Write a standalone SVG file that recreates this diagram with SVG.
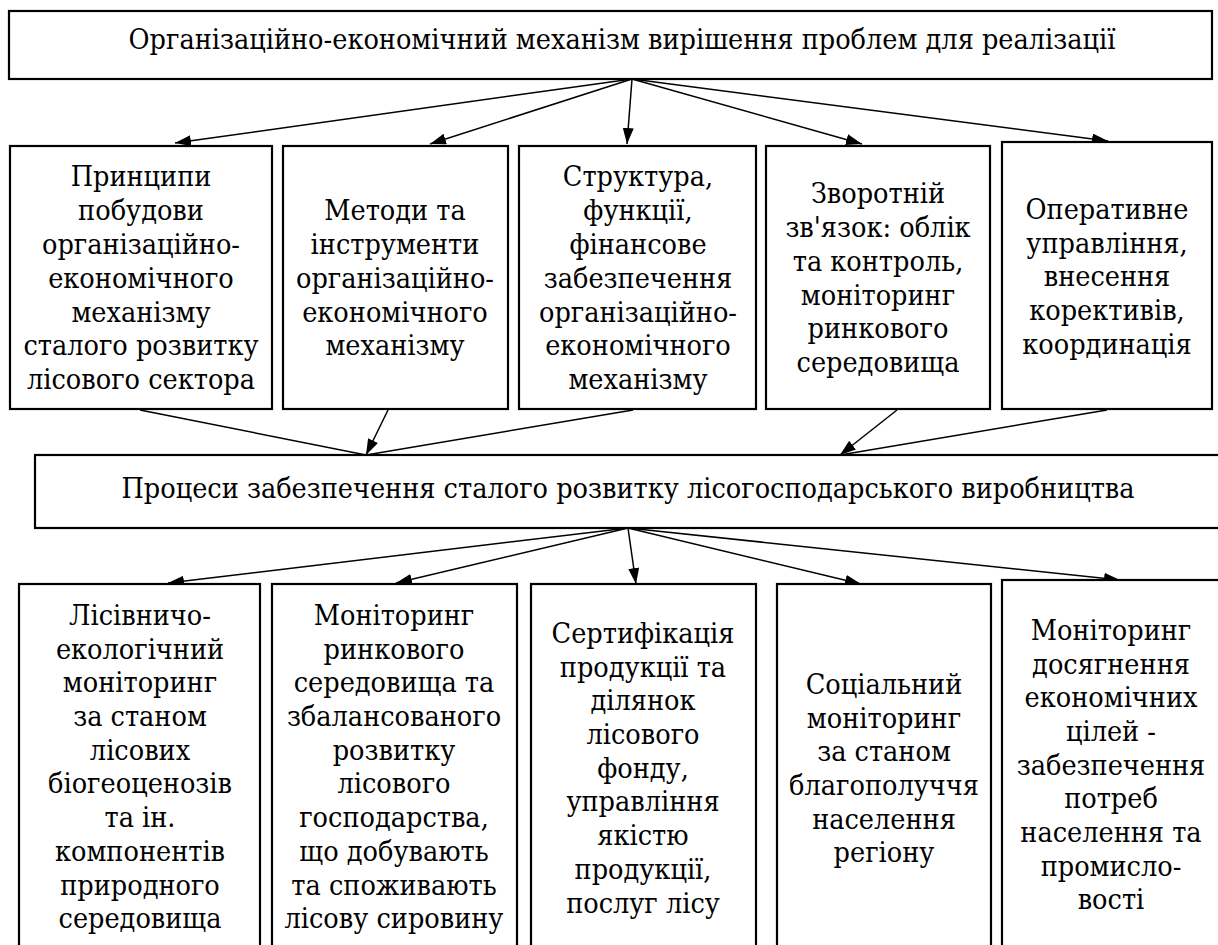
<svg xmlns="http://www.w3.org/2000/svg" width="1218" height="945" viewBox="0 0 1218 945">
<style>
.box{fill:#fff;stroke:#000;stroke-width:2.2}
.t{font-family:'DejaVu Serif Condensed','DejaVu Serif','Liberation Serif',serif;font-stretch:condensed;font-size:28.5px;fill:#000;text-anchor:middle}
.c{stroke:#000;stroke-width:1.5;fill:none}
.a{marker-end:url(#ah)}
</style>
<defs>
<marker id="ah" markerUnits="userSpaceOnUse" markerWidth="17" markerHeight="12" refX="16" refY="5.5" orient="auto">
<path d="M0,0 L16,5.5 L0,11 z" fill="#000"/>
</marker>
</defs>
<rect width="1218" height="945" fill="#fff"/>
<g id="connectors">
<line class="c a" x1="632" y1="79" x2="175" y2="143"/>
<line class="c a" x1="632" y1="79" x2="430" y2="144"/>
<line class="c a" x1="632" y1="79" x2="627" y2="144"/>
<line class="c a" x1="632" y1="79" x2="862" y2="144"/>
<line class="c a" x1="632" y1="79" x2="1108" y2="141"/>
<line class="c" x1="140" y1="410" x2="366" y2="455"/>
<line class="c a" x1="388" y1="410" x2="366" y2="455"/>
<line class="c" x1="633" y1="410" x2="366" y2="455"/>
<line class="c a" x1="897" y1="410" x2="840" y2="455"/>
<line class="c" x1="1107" y1="410" x2="840" y2="455"/>
<line class="c a" x1="628" y1="528" x2="168" y2="583"/>
<line class="c a" x1="628" y1="528" x2="396" y2="583"/>
<line class="c a" x1="628" y1="528" x2="636" y2="584"/>
<line class="c a" x1="628" y1="528" x2="861" y2="584"/>
<line class="c a" x1="628" y1="528" x2="1120" y2="580"/>
</g>
<g id="top">
<rect class="box" x="9" y="11" width="1203" height="68"/>
<text class="t" x="622" y="49">Організаційно-економічний механізм вирішення проблем для реалізації</text>
</g>
<g id="n1">
<rect class="box" x="10" y="146" width="262" height="263"/>
<text class="t"><tspan x="141" y="186">Принципи</tspan><tspan x="141" y="220">побудови</tspan><tspan x="141" y="254">організаційно-</tspan><tspan x="141" y="288">економічного</tspan><tspan x="141" y="322">механізму</tspan><tspan x="141" y="355">сталого розвитку</tspan><tspan x="141" y="389">лісового сектора</tspan></text>
</g>
<g id="n2">
<rect class="box" x="283" y="146" width="225" height="263"/>
<text class="t"><tspan x="395" y="220">Методи та</tspan><tspan x="395" y="254">інструменти</tspan><tspan x="395" y="288">організаційно-</tspan><tspan x="395" y="322">економічного</tspan><tspan x="395" y="355">механізму</tspan></text>
</g>
<g id="n3">
<rect class="box" x="519" y="146" width="237" height="263"/>
<text class="t"><tspan x="638" y="186">Структура,</tspan><tspan x="638" y="220">функції,</tspan><tspan x="638" y="254">фінансове</tspan><tspan x="638" y="288">забезпечення</tspan><tspan x="638" y="322">організаційно-</tspan><tspan x="638" y="355">економічного</tspan><tspan x="638" y="389">механізму</tspan></text>
</g>
<g id="n4">
<rect class="box" x="766" y="146" width="224" height="263"/>
<text class="t"><tspan x="878" y="203">Зворотній</tspan><tspan x="878" y="237">зв'язок: облік</tspan><tspan x="878" y="271">та контроль,</tspan><tspan x="878" y="305">моніторинг</tspan><tspan x="878" y="338">ринкового</tspan><tspan x="878" y="372">середовища</tspan></text>
</g>
<g id="n5">
<rect class="box" x="1002" y="142" width="210" height="267"/>
<text class="t"><tspan x="1107" y="219">Оперативне</tspan><tspan x="1107" y="253">управління,</tspan><tspan x="1107" y="286">внесення</tspan><tspan x="1107" y="320">корективів,</tspan><tspan x="1107" y="354">координація</tspan></text>
</g>
<g id="mid">
<rect class="box" x="35" y="455" width="1200" height="73"/>
<text class="t" x="628" y="498">Процеси забезпечення сталого розвитку лісогосподарського виробництва</text>
</g>
<g id="b1">
<rect class="box" x="19" y="584" width="241" height="380"/>
<text class="t"><tspan x="140" y="625">Лісівничо-</tspan><tspan x="140" y="659">екологічний</tspan><tspan x="140" y="692">моніторинг</tspan><tspan x="140" y="726">за станом</tspan><tspan x="140" y="760">лісових</tspan><tspan x="140" y="793">біогеоценозів</tspan><tspan x="140" y="827">та ін.</tspan><tspan x="140" y="861">компонентів</tspan><tspan x="140" y="895">природного</tspan><tspan x="140" y="928">середовища</tspan></text>
</g>
<g id="b2">
<rect class="box" x="272" y="584" width="245" height="380"/>
<text class="t"><tspan x="394" y="625">Моніторинг</tspan><tspan x="394" y="659">ринкового</tspan><tspan x="394" y="692">середовища та</tspan><tspan x="394" y="726">збалансованого</tspan><tspan x="394" y="760">розвитку</tspan><tspan x="394" y="793">лісового</tspan><tspan x="394" y="827">господарства,</tspan><tspan x="394" y="861">що добувають</tspan><tspan x="394" y="895">та споживають</tspan><tspan x="394" y="928">лісову сировину</tspan></text>
</g>
<g id="b3">
<rect class="box" x="531" y="584" width="225" height="380"/>
<text class="t"><tspan x="643" y="643">Сертифікація</tspan><tspan x="643" y="677">продукції та</tspan><tspan x="643" y="710">ділянок</tspan><tspan x="643" y="744">лісового</tspan><tspan x="643" y="778">фонду,</tspan><tspan x="643" y="811">управління</tspan><tspan x="643" y="845">якістю</tspan><tspan x="643" y="879">продукції,</tspan><tspan x="643" y="913">послуг лісу</tspan></text>
</g>
<g id="b4">
<rect class="box" x="777" y="584" width="214" height="380"/>
<text class="t"><tspan x="884" y="694">Соціальний</tspan><tspan x="884" y="728">моніторинг</tspan><tspan x="884" y="761">за станом</tspan><tspan x="884" y="795">благополуччя</tspan><tspan x="884" y="829">населення</tspan><tspan x="884" y="862">регіону</tspan></text>
</g>
<g id="b5">
<rect class="box" x="1002" y="580" width="230" height="384"/>
<text class="t"><tspan x="1111" y="640">Моніторинг</tspan><tspan x="1111" y="674">досягнення</tspan><tspan x="1111" y="707">економічних</tspan><tspan x="1111" y="741">цілей -</tspan><tspan x="1111" y="775">забезпечення</tspan><tspan x="1111" y="808">потреб</tspan><tspan x="1111" y="842">населення та</tspan><tspan x="1111" y="876">промисло-</tspan><tspan x="1111" y="909">вості</tspan></text>
</g>
</svg>
